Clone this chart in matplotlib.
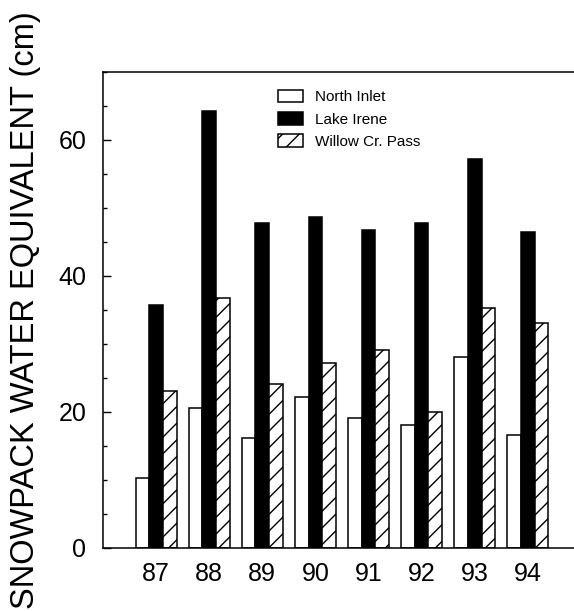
import numpy as np
import matplotlib
matplotlib.use("Agg")
import matplotlib.pyplot as plt
from matplotlib.ticker import MultipleLocator

plt.rcParams['font.family'] = ['Liberation Sans', 'DejaVu Sans']
plt.rcParams['hatch.linewidth'] = 1.0

# data (snowpack water equivalent, cm)
years = ["87", "88", "89", "90", "91", "92", "93", "94"]
north_inlet = [10.2, 20.5, 16.1, 22.2, 19.1, 18.1, 28.1, 16.6]
lake_irene = [35.7, 64.2, 47.7, 48.7, 46.7, 47.7, 57.2, 46.4]
willow_cr = [23.1, 36.7, 24.1, 27.2, 29.1, 20.0, 35.2, 33.0]

fig = plt.figure(figsize=(5.74, 6.11), dpi=100)
ax = fig.add_axes([0.1794, 0.1039, 0.8206, 0.7783])

x = np.arange(len(years))
w = 0.258
ax.bar(x - w, north_inlet, w, color="white", edgecolor="black", lw=1.1, label="North Inlet")
ax.bar(x, lake_irene, w, color="black", edgecolor="black", lw=1.1, label="Lake Irene")
ax.bar(x + w, willow_cr, w, color="white", edgecolor="black", lw=1.1, hatch="//",
       label="Willow Cr. Pass")

ax.set_xlim(-1.0, 7.87)
ax.set_ylim(0, 70)
ax.set_xticks(x)
ax.set_xticklabels(years)
ax.set_yticks([0, 20, 40, 60])
ax.yaxis.set_minor_locator(MultipleLocator(5))

ax.spines['right'].set_visible(False)
for s in ['left', 'top', 'bottom']:
    ax.spines[s].set_linewidth(1.1)

ax.tick_params(axis='x', length=0, pad=10.5, labelsize=18)
ax.tick_params(axis='y', which='major', direction='in', length=5.5, width=1, pad=12, labelsize=18)
ax.tick_params(axis='y', which='minor', direction='in', length=3, width=1)

ax.set_ylabel("SNOWPACK WATER EQUIVALENT (cm)", fontsize=23.5)
ax.yaxis.set_label_coords(-0.132, 0.5)

ax.legend(loc="upper left", bbox_to_anchor=(0.359, 0.9755), frameon=False, fontsize=11,
          handlelength=1.63, handleheight=0.9, handletextpad=0.8, labelspacing=0.5,
          borderaxespad=0)

fig.savefig("out.png", dpi=100)
